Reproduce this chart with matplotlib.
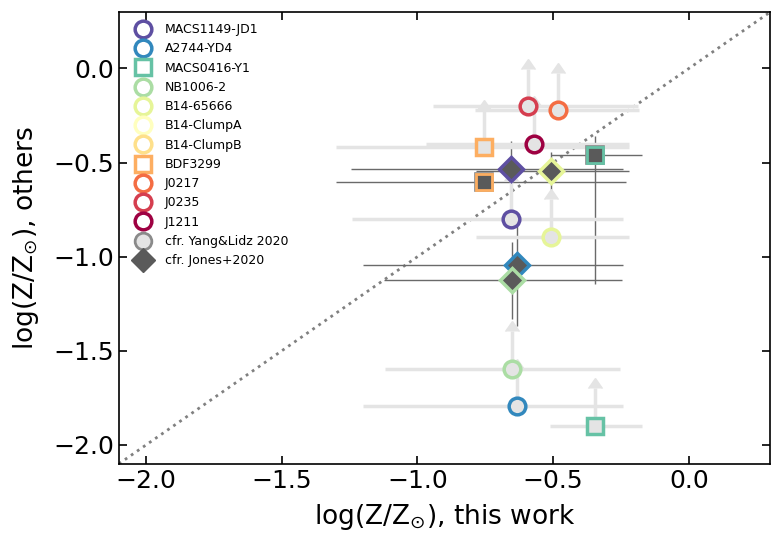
import matplotlib
matplotlib.use("Agg")
import matplotlib.pyplot as plt
import numpy as np

# ---- data ----
names = ["MACS1149-JD1", "A2744-YD4", "MACS0416-Y1", "NB1006-2", "B14-65666",
         "B14-ClumpA", "B14-ClumpB", "BDF3299", "J0217", "J0235", "J1211"]
colors = ["#5e4fa2", "#3288bd", "#66c2a5", "#abdda4", "#e6f598",
          "#ffffbf", "#fee08b", "#fdae61", "#f46d43", "#d53e4f", "#9e0142"]
shapes = ["o", "o", "s", "o", "o", "o", "o", "s", "o", "o", "o"]

# Yang & Lidz 2020 comparison (y are lower limits)
yl_names = ["MACS1149-JD1", "A2744-YD4", "MACS0416-Y1", "NB1006-2", "B14-65666",
            "BDF3299", "J0217", "J0235", "J1211"]
yl_x = [-0.656, -0.633, -0.344, -0.652, -0.507, -0.756, -0.481, -0.593, -0.570]
yl_xlo = [0.585, 0.567, 0.167, 0.467, 0.278, 0.544, 0.308, 0.351, 0.397]
yl_xhi = [0.412, 0.392, 0.170, 0.400, 0.285, 0.534, 0.296, 0.404, 0.348]
yl_y = [-0.80, -1.795, -1.90, -1.595, -0.895, -0.418, -0.222, -0.201, -0.402]
yl_arrow = [0.20, 0.20, 0.20, 0.20, 0.20, 0.20, 0.20, 0.20, 0.20]

# Jones+2020 comparison
jo_names = ["MACS1149-JD1", "A2744-YD4", "MACS0416-Y1", "NB1006-2", "B14-65666", "BDF3299"]
jo_x = [-0.656, -0.633, -0.344, -0.652, -0.507, -0.756]
jo_xlo = [0.588, 0.567, 0.163, 0.470, 0.278, 0.544]
jo_xhi = [0.415, 0.392, 0.170, 0.404, 0.285, 0.523]
jo_y = [-0.534, -1.042, -0.460, -1.122, -0.545, -0.603]
jo_ylo = [0.30, 0.328, 0.683, 0.211, 0.11, 0.03]
jo_yhi = [0.148, 0.206, 0.100, 0.20, 0.10, 0.03]

col = dict(zip(names, colors))
shp = dict(zip(names, shapes))

LIGHT = "#e4e4e4"
DARK = "#5a5a5a"
DLINE = "#6a6a6a"

fig = plt.figure(figsize=(7.82, 5.45), dpi=100)
ax = fig.add_axes([0.152, 0.149, 0.833, 0.829])

# 1:1 line
ax.plot([-2.1, 0.3], [-2.1, 0.3], ls=":", color="grey", lw=2, zorder=1)

# Jones error bars
for n, x, xl, xh, y, yl, yh in zip(jo_names, jo_x, jo_xlo, jo_xhi, jo_y, jo_ylo, jo_yhi):
    ax.errorbar(x, y, xerr=[[xl], [xh]], yerr=[[yl], [yh]], fmt="none",
                ecolor=DLINE, color=DLINE, elinewidth=1.0, capsize=0, zorder=2)

# Yang & Lidz error bars and arrows
for n, x, xl, xh, y, a in zip(yl_names, yl_x, yl_xlo, yl_xhi, yl_y, yl_arrow):
    ax.errorbar(x, y, xerr=[[xl], [xh]], fmt="none", ecolor=LIGHT, color=LIGHT,
                elinewidth=2.5, capsize=0, zorder=3)
    ax.errorbar(x, y, yerr=a, lolims=True, fmt="none", ecolor=LIGHT, color=LIGHT,
                elinewidth=2.5, capsize=5, zorder=3)

# Yang & Lidz markers
for n, x, y in zip(yl_names, yl_x, yl_y):
    ax.plot(x, y, marker=shp[n], ms=12, mfc=LIGHT, mec=col[n], mew=2.5,
            ls="none", zorder=4)

# Jones markers
for n, x, y in zip(jo_names, jo_x, jo_y):
    if shp[n] == "s":
        ax.plot(x, y, marker="s", ms=13, mfc=DARK, mec="#8a8a8a", mew=1.2,
                ls="none", zorder=5)
        ax.plot(x, y, marker="s", ms=11, mfc=DARK, mec=col[n], mew=2.0,
                ls="none", zorder=5)
    else:
        ax.plot(x, y, marker="D", ms=12, mfc=DARK, mec=col[n], mew=2.5,
                ls="none", zorder=5)

# legend proxies
handles = []
for n in names:
    h, = ax.plot([], [], marker=shp[n], ms=12, mfc="white", mec=col[n], mew=2.5,
                 ls="none", label=n)
    handles.append(h)
h, = ax.plot([], [], marker="o", ms=12, mfc=LIGHT, mec="#8a8a8a", mew=2.0,
             ls="none", label="cfr. Yang&Lidz 2020")
handles.append(h)
h, = ax.plot([], [], marker="D", ms=12, mfc=DARK, mec=DARK, mew=1.0,
             ls="none", label="cfr. Jones+2020")
handles.append(h)
ax.legend(handles=handles, loc="upper left", frameon=False, fontsize=9)

ax.set_xlim(-2.1, 0.3)
ax.set_ylim(-2.1, 0.3)
ax.set_xticks([-2.0, -1.5, -1.0, -0.5, 0.0])
ax.set_yticks([-2.0, -1.5, -1.0, -0.5, 0.0])
ax.tick_params(direction="in", top=True, right=True, length=6, width=1.2,
               labelsize=18)
for s in ax.spines.values():
    s.set_linewidth(1.2)
ax.set_xlabel(r"log(Z/Z$_{\odot}$), this work", fontsize=19, labelpad=7)
ax.set_ylabel(r"log(Z/Z$_{\odot}$), others", fontsize=19, labelpad=9)

fig.savefig("out.png", dpi=100)
